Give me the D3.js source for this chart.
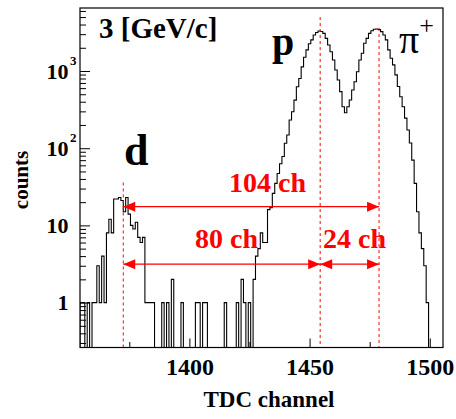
<!DOCTYPE html>
<html><head><meta charset="utf-8">
<script src="https://cdn.jsdelivr.net/npm/d3@7"></script>
<style>body{margin:0;background:#fff}svg{display:block}</style>
</head><body>
<svg id="c" width="456" height="419"></svg>
<script>
// ---- data ----
const firstChannel = 1355; // centre of first 1-channel bin
const counts = [
  1,1,0,1,0,1,1,3,1,4,            // 1355-1364
  1,8,12,8,22,22,23,21,15,23,     // 1365-1374
  14,10,9,11,7,6,7,1,1,1,         // 1375-1384
  1,0,0,0,1,0,1,0,2,0,            // 1385-1394
  0,0,1,0,0,0,0,0,1,1,            // 1395-1404
  0,1,1,0,0,0,0,0,0,0,            // 1405-1414
  1,0,0,0,0,1,0,2,1,0,            // 1415-1424
  1,0,2,4,5,8,6,6,16,17,          // 1425-1434
  26,35,47,63,78,116,148,232,297,420,          // 1435-1444
  625,800,1130,1510,1880,2250,2530,2930,3150,3300, // 1445-1454
  3250,3070,2650,2170,1780,1390,1030,765,540,345,  // 1455-1464
  288,345,421,568,726,980,1390,1695,2285,2650,     // 1465-1474
  3070,3330,3470,3500,3450,3240,2930,2530,1880,1460, // 1475-1484
  1200,890,630,465,345,245,172,117,70,35,          // 1485-1494
  15,8,5,3,1,0,0,0,0,0,0                           // 1495-1505
];
const xTickMajor = [1400, 1450, 1500];
const xTickMinor = [1375, 1425, 1475];
const yTickMajor = [1, 10, 100, 1000];
const yTickLabelBase = ["1", "10", "10", "10"];
const yTickLabelExp = ["", "", "2", "3"];
const peakNames = ["d", "p", "pi"];
const peakChannels = [1372.5, 1454.4, 1478.9];
const peakLineTops = [36, 5000, 3600];
const arrowFrom = [1372.5, 1372.5, 1454.4];
const arrowTo = [1478.9, 1454.4, 1478.9];
const arrowLevel = [17.5, 3.15, 3.15];
const arrowLabels = ["104 ch", "80 ch", "24 ch"];

// ---- layout ----
const L = 80, R = 443, T = 8, B = 347.5;
const svg = d3.select("#c");
const x = d3.scaleLinear().domain([firstChannel - 0.5, firstChannel - 0.5 + counts.length]).range([L, R]);
const y = d3.scaleLog().domain([0.262, 6550]).range([B, T]);
const red = "#ff0000";
const FF = '"Liberation Serif"';
function txt(sel, size) {
  return sel.style("font-family", FF).style("font-weight", "bold").style("font-size", size + "px");
}

svg.append("defs").append("clipPath").attr("id", "fr")
  .append("rect").attr("x", L).attr("y", T).attr("width", R - L).attr("height", B - T);

// histogram outline
const pts = [[x(firstChannel - 0.5), B]];
counts.forEach((v, i) => pts.push([x(firstChannel + i - 0.5), v > 0 ? y(v) : B]));
pts.push([x(firstChannel + counts.length - 0.5), B]);
svg.append("path").attr("clip-path", "url(#fr)")
  .attr("d", d3.line().curve(d3.curveStepAfter)(pts))
  .attr("fill", "none").attr("stroke", "#000").attr("stroke-width", 1.1);

// dashed peak lines
peakChannels.forEach((c, i) => {
  svg.append("line").attr("x1", x(c)).attr("x2", x(c))
    .attr("y1", y(peakLineTops[i])).attr("y2", B)
    .attr("stroke", red).attr("stroke-width", 1).attr("stroke-dasharray", "3,3");
});

// arrows
function head(xt, yt, dir) {
  const len = 12, hw = 5;
  svg.append("path").attr("d", `M${xt},${yt}L${xt - dir * len},${yt - hw}L${xt - dir * len},${yt + hw}Z`)
    .attr("fill", red);
}
arrowFrom.forEach((a, i) => {
  const yy = y(arrowLevel[i]), x1 = x(a), x2 = x(arrowTo[i]);
  svg.append("line").attr("x1", x1).attr("x2", x2).attr("y1", yy).attr("y2", yy)
    .attr("stroke", red).attr("stroke-width", 1.2);
  head(x1, yy, -1); head(x2, yy, 1);
});
const labelPos = [[229, 192], [195, 248], [323, 248]];
arrowLabels.forEach((t, i) => {
  txt(svg.append("text").attr("x", labelPos[i][0]).attr("y", labelPos[i][1]).text(t), 28).attr("fill", red);
});

// frame
svg.append("rect").attr("x", L).attr("y", T).attr("width", R - L).attr("height", B - T)
  .attr("fill", "none").attr("stroke", "#000").attr("stroke-width", 1.2);

// x axis
const gx = svg.append("g").attr("transform", `translate(0,${B})`);
gx.call(d3.axisBottom(x).tickValues(xTickMajor).tickSize(-9).tickFormat(d3.format("d")).tickPadding(0));
gx.select(".domain").remove();
txt(gx.selectAll("text").attr("y", 27.5).attr("dy", 0).attr("fill", "#000"), 24);
gx.selectAll("line").attr("stroke", "#000");
const gx2 = svg.append("g").attr("transform", `translate(0,${B})`);
gx2.call(d3.axisBottom(x).tickValues(xTickMinor).tickSize(-5.5).tickFormat(""));
gx2.select(".domain").remove();
gx2.selectAll("line").attr("stroke", "#000");

// y axis
const minor = [];
[0.1, 1, 10, 100, 1000].forEach(d => { for (let k = 2; k <= 9; k++) { const v = d * k; if (v > 0.262 && v < 6550) minor.push(v); } });
const gy = svg.append("g").attr("transform", `translate(${L},0)`);
gy.call(d3.axisLeft(y).tickValues(yTickMajor).tickSize(-10).tickFormat(""));
gy.select(".domain").remove();
gy.selectAll("line").attr("stroke", "#000");
const gy2 = svg.append("g").attr("transform", `translate(${L},0)`);
gy2.call(d3.axisLeft(y).tickValues(minor).tickSize(-6).tickFormat(""));
gy2.select(".domain").remove();
gy2.selectAll("line").attr("stroke", "#000");
yTickMajor.forEach((v, i) => {
  txt(svg.append("text").attr("x", 68.5).attr("y", y(v) + 7.5).attr("text-anchor", "end").text(yTickLabelBase[i]), 22);
  if (yTickLabelExp[i]) {
    txt(svg.append("text").attr("x", 70).attr("y", y(v) - 6).text(yTickLabelExp[i]), 13);
  }
});

// axis titles
txt(svg.append("text").attr("x", 269).attr("y", 407).attr("text-anchor", "middle").text("TDC channel"), 23);
txt(svg.append("text").attr("transform", "translate(28,180) rotate(-90)").attr("text-anchor", "middle").text("counts"), 21);

// labels
txt(svg.append("text").attr("x", 99).attr("y", 38).text("3 [GeV/c]"), 29);
txt(svg.append("text").attr("x", 272).attr("y", 55).text("p"), 40);
txt(svg.append("text").attr("x", 124).attr("y", 165).text("d"), 44);
const pi = txt(svg.append("text").attr("x", 399).attr("y", 53), 40).style("font-weight", "normal");
pi.append("tspan").text("π");
pi.append("tspan").style("font-size", "26px").attr("dy", -19).text("+");
</script>
</body></html>
